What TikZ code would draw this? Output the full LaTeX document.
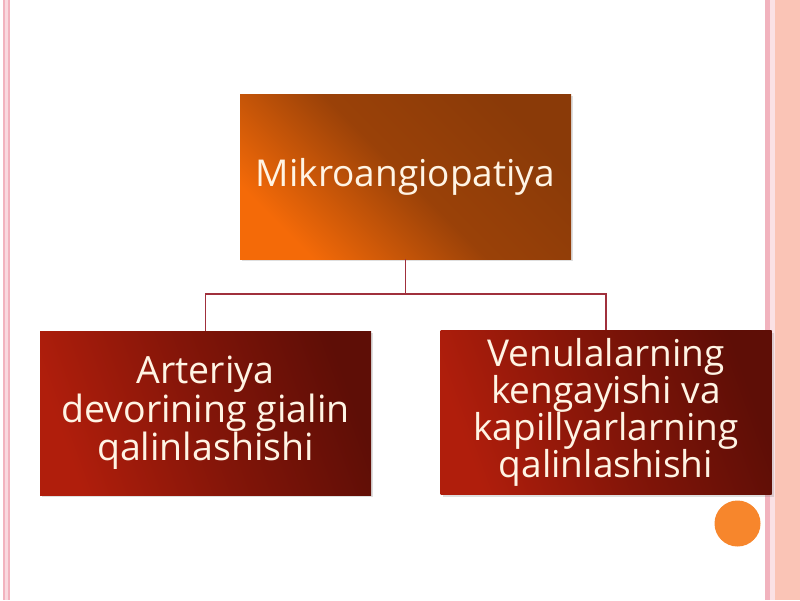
\documentclass[tikz,border=0pt]{standalone}
\usepackage{fontspec}
\setmainfont{Open Sans}
\usetikzlibrary{shadows}
\definecolor{pinkline}{HTML}{F2B3BE}
\definecolor{salmon}{HTML}{FAC4B6}
\definecolor{topA}{HTML}{F46A08}
\definecolor{topB}{HTML}{8A3A08}
\definecolor{botA}{HTML}{B01E0C}
\definecolor{botB}{HTML}{5E0E06}
\definecolor{linkc}{HTML}{A0303C}
\definecolor{txt}{HTML}{FFF4E4}
\definecolor{dotc}{HTML}{F7862C}
\tikzset{
  topbox/.style={rectangle, minimum width=331pt, minimum height=165pt, inner sep=0pt,
    left color=topA, right color=topB, middle color=topB!85!topA, shading angle=135,
    drop shadow={shadow xshift=2pt, shadow yshift=-2pt, opacity=0.25},
    text=txt, font=\fontsize{37}{44}\selectfont, align=center},
  botbox/.style={rectangle, minimum width=331pt, minimum height=164pt, inner sep=0pt,
    left color=botA, right color=botB, middle color=botA!45!botB, shading angle=110,
    drop shadow={shadow xshift=2pt, shadow yshift=-2pt, opacity=0.25},
    text=txt, font=\fontsize{37}{37}\selectfont, align=center},
  link/.style={draw=linkc, line width=1.6pt}
}
\begin{document}
\begin{tikzpicture}[x=1pt,y=-1pt]
\useasboundingbox (0,0) rectangle (800,600);
\fill[white] (0,0) rectangle (800,600);
% borders
\fill[pinkline] (3,0) rectangle (9.5,600);
\fill[pinkline!50] (5,0) rectangle (7.5,600);
\fill[pinkline] (765,0) rectangle (770,600);
\fill[pinkline!40] (770,0) rectangle (775,600);
\fill[salmon] (775,0) rectangle (800,600);
% boxes
\node[topbox] (top) at (405.5,176.5) {Mikroangiopatiya};
\node[botbox, font=\fontsize{37.5}{38.5}\selectfont] (left) at (205.5,413) {Arteriya\\devorining gialin\\qalinlashishi};
\node[botbox] (right) at (606,412.5) {Venulalarning\\kengayishi va\\kapillyarlarning\\qalinlashishi};
% connectors
\coordinate (mid) at (405.5,294);
\draw[link] (top.south) -- (mid);
\draw[link] (mid) -| (left.north);
\draw[link] (mid) -| (right.north);
% dot
\node[circle, fill=dotc, minimum size=46pt, inner sep=0pt] (dot) at (737.5,523.5) {};
\end{tikzpicture}
\end{document}
